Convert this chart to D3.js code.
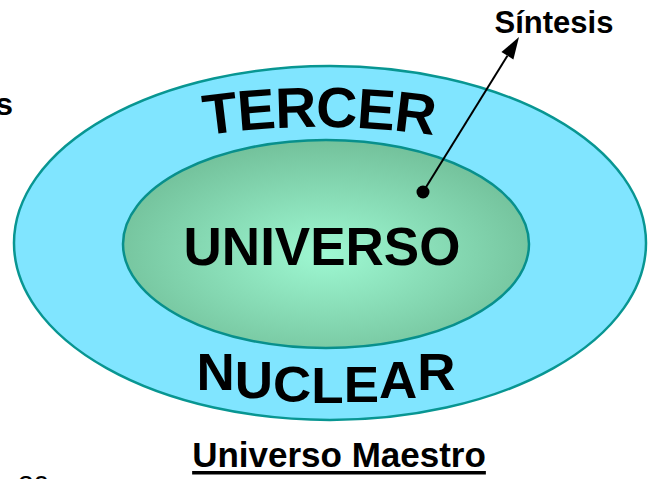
<!DOCTYPE html>
<html>
<head>
<meta charset="utf-8">
<script src="https://cdn.jsdelivr.net/npm/d3@7"></script>
<style>
  body { margin: 0; background: #fff; }
  svg { display: block; }
</style>
</head>
<body>
<div id="chart"></div>
<script>
// labels of the diagram
const ringTop = "TERCER";
const ringBottom = "NUCLEAR";
const coreLabel = "UNIVERSO";
const pointerLabel = "Síntesis";
const titleLabel = "Universo Maestro";
const edgeTexts = ["s", "20"];

const W = 653, H = 479;
const font = "'Liberation Sans', Arial, Helvetica, sans-serif";

const svg = d3.select("#chart").append("svg")
  .attr("width", W)
  .attr("height", H);

const defs = svg.append("defs");
const grad = defs.append("radialGradient")
  .attr("id", "coreGrad")
  .attr("cx", "50%").attr("cy", "55%").attr("r", "55%");
grad.append("stop").attr("offset", "0%").attr("stop-color", "#9ef8d2");
grad.append("stop").attr("offset", "100%").attr("stop-color", "#73c19b");

// outer ring
svg.append("ellipse")
  .attr("cx", 330).attr("cy", 243)
  .attr("rx", 316).attr("ry", 177)
  .attr("fill", "#80e5ff")
  .attr("stroke", "#089692")
  .attr("stroke-width", 2.5);

// inner core
svg.append("ellipse")
  .attr("cx", 326).attr("cy", 244)
  .attr("rx", 203).attr("ry", 104)
  .attr("fill", "url(#coreGrad)")
  .attr("stroke", "#08908c")
  .attr("stroke-width", 2.5);

// TERCER on an arc
const R = 800, acx = 319, acy = 927;
const half = 300;
const ay = acy - Math.sqrt(R * R - half * half);
defs.append("path")
  .attr("id", "topArc")
  .attr("d", `M${acx - half},${ay} A${R},${R} 0 0 1 ${acx + half},${ay}`);

svg.append("text")
  .attr("font-family", font)
  .attr("font-weight", "bold")
  .attr("font-size", 57)
  .attr("letter-spacing", -1)
  .attr("fill", "#000")
  .append("textPath")
  .attr("href", "#topArc")
  .attr("startOffset", "50%")
  .attr("text-anchor", "middle")
  .text(ringTop);

// NUCLEAR, warped letter by letter
const nFs = 53;
const nG = svg.append("g")
  .attr("font-family", font)
  .attr("font-weight", "bold")
  .attr("font-size", nFs)
  .attr("fill", "#000");
const letters = ringBottom.split("");
const tmp = letters.map(ch => nG.append("text").text(ch));
const widths = tmp.map(t => t.node().getComputedTextLength());
tmp.forEach(t => t.remove());
const total = d3.sum(widths);
const nx0 = 326 - total / 2;
const bottomY = x => 403 - 15 * Math.pow((x - 326) / 120, 2);
const topY = x => 367 - 17 * Math.pow((x - 326) / 120, 2);
let acc = nx0;
letters.forEach((ch, i) => {
  const cx = acc + widths[i] / 2;
  acc += widths[i];
  const b = bottomY(cx), t = topY(cx);
  const sy = (b - t) / (0.716 * nFs);
  nG.append("text")
    .attr("text-anchor", "middle")
    .attr("transform", `translate(${cx},${b}) scale(1,${sy})`)
    .text(ch);
});

// core label
svg.append("text")
  .attr("x", 322).attr("y", 265)
  .attr("text-anchor", "middle")
  .attr("font-family", font)
  .attr("font-weight", "bold")
  .attr("font-size", 53)
  .attr("fill", "#000")
  .text(coreLabel);

// pointer from the dot to "Síntesis"
const p0 = [423, 192], tip = [519, 37];
const dx = tip[0] - p0[0], dy = tip[1] - p0[1];
const len = Math.hypot(dx, dy);
const ux = dx / len, uy = dy / len;
const hl = 22, hw = 7;
const base = [tip[0] - hl * ux, tip[1] - hl * uy];
svg.append("line")
  .attr("x1", p0[0]).attr("y1", p0[1])
  .attr("x2", base[0]).attr("y2", base[1])
  .attr("stroke", "#000")
  .attr("stroke-width", 2);
svg.append("path")
  .attr("d", d3.line()([
    tip,
    [base[0] - hw * uy, base[1] + hw * ux],
    [base[0] + hw * uy, base[1] - hw * ux]
  ]) + "Z")
  .attr("fill", "#000");
svg.append("circle")
  .attr("cx", p0[0]).attr("cy", p0[1])
  .attr("r", 6.5)
  .attr("fill", "#000");

svg.append("text")
  .attr("x", 554).attr("y", 33)
  .attr("text-anchor", "middle")
  .attr("font-family", font)
  .attr("font-weight", "bold")
  .attr("font-size", 31)
  .attr("fill", "#000")
  .text(pointerLabel);

// title with underline
const title = svg.append("text")
  .attr("x", 339).attr("y", 467)
  .attr("text-anchor", "middle")
  .attr("font-family", font)
  .attr("font-weight", "bold")
  .attr("font-size", 35)
  .attr("fill", "#000")
  .text(titleLabel);
const tw = title.node().getComputedTextLength();
svg.append("rect")
  .attr("x", 339 - tw / 2).attr("y", 471)
  .attr("width", tw).attr("height", 3.5)
  .attr("fill", "#000");

// texts cut off at the edges, as in the source slide
svg.append("text")
  .attr("x", 13).attr("y", 115)
  .attr("text-anchor", "end")
  .attr("font-family", font)
  .attr("font-weight", "bold")
  .attr("font-size", 32)
  .attr("fill", "#000")
  .text(edgeTexts[0]);
svg.append("text")
  .attr("x", 18).attr("y", 495)
  .attr("font-family", font)
  .attr("font-size", 28)
  .attr("fill", "#000")
  .text(edgeTexts[1]);
</script>
</body>
</html>
